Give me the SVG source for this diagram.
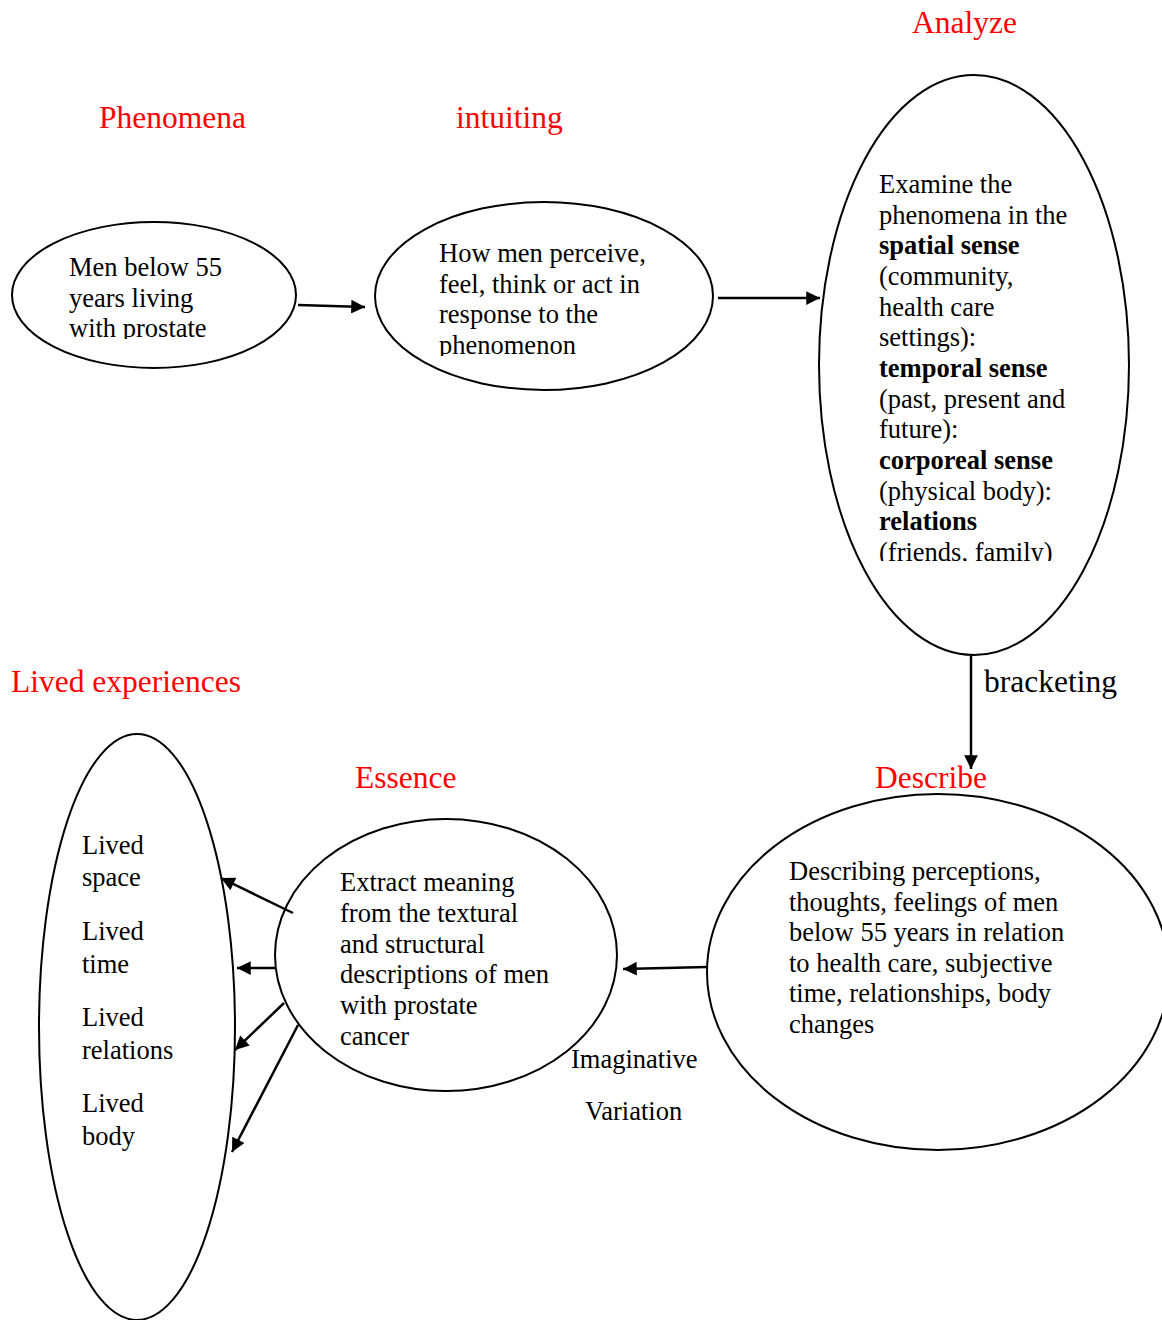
<svg xmlns="http://www.w3.org/2000/svg" width="1162" height="1320" viewBox="0 0 1162 1320">
<style>
.node{fill:#fff;stroke:#000;stroke-width:2}
.t{font-family:"Liberation Serif","Times New Roman",serif;font-size:26.5px;fill:#000}
.b{font-weight:bold}
.title{font-family:"Liberation Serif","Times New Roman",serif;font-size:31.5px;fill:#ff0000}
.lab{font-family:"Liberation Serif","Times New Roman",serif;font-size:31.5px;fill:#000}
.conn{stroke:#000;stroke-width:2.5;fill:none;marker-end:url(#ah)}
</style>
<defs>
<marker id="ah" viewBox="0 0 10 10" refX="10" refY="5" markerWidth="7" markerHeight="5.5" markerUnits="strokeWidth" orient="auto">
<path d="M0,0 L10,5 L0,10 z" fill="#000"/>
</marker>
<clipPath id="c1"><rect x="0" y="240" width="400" height="99"/></clipPath>
<clipPath id="c2"><rect x="380" y="230" width="330" height="126"/></clipPath>
<clipPath id="c3"><rect x="820" y="160" width="300" height="401"/></clipPath>
<clipPath id="c5"><rect x="300" y="860" width="300" height="188"/></clipPath>
</defs>
<rect width="1162" height="1320" fill="#fff"/>

<g id="titles">
<text class="title" x="912" y="33">Analyze</text>
<text class="title" x="99" y="128">Phenomena</text>
<text class="title" x="456" y="128">intuiting</text>
<text class="title" x="11" y="692">Lived experiences</text>
<text class="title" x="355" y="788">Essence</text>
</g>

<g id="phenomena">
<ellipse class="node" cx="154" cy="295" rx="142" ry="73"/>
<g clip-path="url(#c1)">
<text class="t" x="69" y="276">Men below 55</text>
<text class="t" x="69" y="307">years living</text>
<text class="t" x="69" y="337">with prostate</text>
</g>
</g>

<g id="intuiting">
<ellipse class="node" cx="544" cy="296" rx="169" ry="94"/>
<g clip-path="url(#c2)">
<text class="t" x="439" y="262">How men perceive,</text>
<text class="t" x="439" y="293">feel, think or act in</text>
<text class="t" x="439" y="323">response to the</text>
<text class="t" x="439" y="354">phenomenon</text>
</g>
</g>

<g id="analyze">
<ellipse class="node" cx="974" cy="365" rx="155" ry="290"/>
<g clip-path="url(#c3)">
<text class="t" x="879" y="193">Examine the</text>
<text class="t" x="879" y="224">phenomena in the</text>
<text class="t b" x="879" y="254">spatial sense</text>
<text class="t" x="879" y="285">(community,</text>
<text class="t" x="879" y="316">health care</text>
<text class="t" x="879" y="346">settings):</text>
<text class="t b" x="879" y="377">temporal sense</text>
<text class="t" x="879" y="408">(past, present and</text>
<text class="t" x="879" y="438">future):</text>
<text class="t b" x="879" y="469">corporeal sense</text>
<text class="t" x="879" y="500">(physical body):</text>
<text class="t b" x="879" y="530">relations</text>
<text class="t" x="879" y="561">(friends, family)</text>
</g>
</g>

<g id="describe">
<ellipse class="node" cx="938" cy="972" rx="231" ry="178"/>
<text class="t" x="789" y="880">Describing perceptions,</text>
<text class="t" x="789" y="911">thoughts, feelings of men</text>
<text class="t" x="789" y="941">below 55 years in relation</text>
<text class="t" x="789" y="972">to health care, subjective</text>
<text class="t" x="789" y="1002">time, relationships, body</text>
<text class="t" x="789" y="1033">changes</text>
</g>

<g id="essence">
<ellipse class="node" cx="446" cy="955" rx="171" ry="136"/>
<g clip-path="url(#c5)">
<text class="t" x="340" y="891">Extract meaning</text>
<text class="t" x="340" y="922">from the textural</text>
<text class="t" x="340" y="953">and structural</text>
<text class="t" x="340" y="983">descriptions of men</text>
<text class="t" x="340" y="1014">with prostate</text>
<text class="t" x="340" y="1045">cancer</text>
</g>
</g>

<g id="lived">
<ellipse class="node" cx="137" cy="1027" rx="98" ry="293"/>
<text class="t" x="82" y="854">Lived</text>
<text class="t" x="82" y="886">space</text>
<text class="t" x="82" y="940">Lived</text>
<text class="t" x="82" y="973">time</text>
<text class="t" x="82" y="1026">Lived</text>
<text class="t" x="82" y="1059">relations</text>
<text class="t" x="82" y="1112">Lived</text>
<text class="t" x="82" y="1145">body</text>
</g>

<g id="connectors">
<line class="conn" x1="298" y1="305" x2="365" y2="307"/>
<line class="conn" x1="718" y1="298" x2="820" y2="298"/>
<line class="conn" x1="971" y1="656" x2="971" y2="769"/>
<line class="conn" x1="707" y1="967" x2="623" y2="969"/>
<line class="conn" x1="293" y1="913" x2="221" y2="878"/>
<line class="conn" x1="276" y1="968" x2="237" y2="968"/>
<line class="conn" x1="284" y1="1003" x2="235" y2="1050"/>
<line class="conn" x1="298" y1="1025" x2="232" y2="1152"/>
<text class="lab" x="984" y="692">bracketing</text>
<text class="t" x="571" y="1068">Imaginative</text>
<text class="t" x="585" y="1120">Variation</text>
</g>
<text class="title" x="875" y="788">Describe</text>
</svg>
